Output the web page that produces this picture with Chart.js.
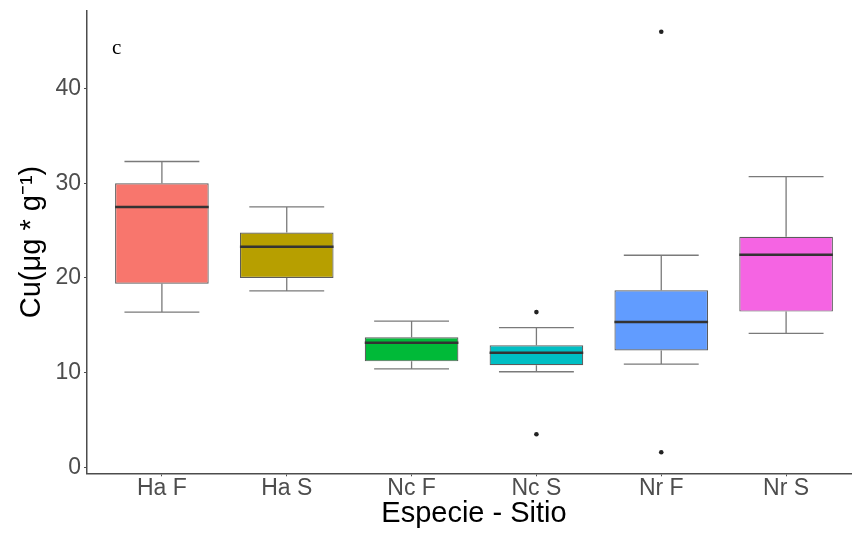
<!DOCTYPE html>
<html>
<head>
<meta charset="utf-8">
<script src="https://cdn.jsdelivr.net/npm/chart.js@4"></script>
<style>
    html, body { margin: 0; padding: 0; background: #ffffff; overflow: hidden; }
    #cuChart { display: block; }
</style>
</head>
<body>
<canvas id="cuChart" width="870" height="533"></canvas>
<script>
// Datos
const categorias = ["Ha F", "Ha S", "Nc F", "Nc S", "Nr F", "Nr S"];
const bigoteInf = [16.4, 18.65, 10.4, 10.1, 10.9, 14.15];
const q1 = [19.4, 20.0, 11.2, 10.8, 12.35, 16.45];
const mediana = [27.5, 23.3, 13.15, 12.1, 15.35, 22.45];
const q3 = [30.0, 24.8, 13.75, 12.9, 18.7, 24.35];
const bigoteSup = [32.3, 27.5, 15.45, 14.75, 22.4, 30.7];
const atipicosCat = [3, 3, 4, 4];
const atipicosVal = [16.4, 3.5, 46.0, 1.6];
const ticksY = [0, 10, 20, 30, 40];
const colores = ["#F8766D", "#B79F00", "#00BA38", "#00BFC4", "#619CFF", "#F564E3"];

document.addEventListener("DOMContentLoaded", function () {
    const ctx = document.getElementById("cuChart").getContext("2d");

    // Bigotes (detrás de las cajas) y medianas (encima)
    const bigotesPlugin = {
        id: "bigotes",
        beforeDatasetsDraw(chart) {
            const x = chart.scales.x, y = chart.scales.y, c = chart.ctx;
            c.save();
            c.strokeStyle = "#7a7a7a";
            c.lineWidth = 1.3;
            categorias.forEach((cat, i) => {
                const xc = x.getPixelForValue(i);
                const x0 = x.getPixelForValue(i - 0.3);
                const x1 = x.getPixelForValue(i + 0.3);
                c.beginPath();
                c.moveTo(xc, y.getPixelForValue(bigoteSup[i]));
                c.lineTo(xc, y.getPixelForValue(q3[i]));
                c.moveTo(xc, y.getPixelForValue(q1[i]));
                c.lineTo(xc, y.getPixelForValue(bigoteInf[i]));
                c.moveTo(x0, y.getPixelForValue(bigoteSup[i]));
                c.lineTo(x1, y.getPixelForValue(bigoteSup[i]));
                c.moveTo(x0, y.getPixelForValue(bigoteInf[i]));
                c.lineTo(x1, y.getPixelForValue(bigoteInf[i]));
                c.stroke();
            });
            c.restore();
        },
        afterDatasetsDraw(chart) {
            const x = chart.scales.x, y = chart.scales.y, c = chart.ctx;
            c.save();
            c.strokeStyle = "#333333";
            c.lineWidth = 2.5;
            categorias.forEach((cat, i) => {
                const ym = y.getPixelForValue(mediana[i]);
                c.beginPath();
                c.moveTo(x.getPixelForValue(i - 0.375), ym);
                c.lineTo(x.getPixelForValue(i + 0.375), ym);
                c.stroke();
            });
            // etiqueta del panel
            c.fillStyle = "#000000";
            c.font = "21px 'Liberation Serif'";
            c.textBaseline = "alphabetic";
            c.fillText("c", chart.chartArea.left + 25, 54);
            c.restore();
        }
    };

    new Chart(ctx, {
        data: {
            datasets: [{
                type: "bar",
                data: categorias.map((c, i) => ({ x: i, y: [q1[i], q3[i]] })),
                backgroundColor: colores,
                borderColor: "#5c5c5c",
                borderWidth: 1.2,
                borderSkipped: false,
                barPercentage: 0.75,
                categoryPercentage: 1.0
            }, {
                type: "scatter",
                data: atipicosCat.map((c, i) => ({ x: c, y: atipicosVal[i] })),
                backgroundColor: "#222222",
                borderWidth: 0,
                pointRadius: 2.3
            }]
        },
        options: {
            responsive: false,
            animation: false,
            layout: { padding: { top: 10.7, right: 9, left: 0, bottom: 0 } },
            plugins: {
                legend: { display: false },
                tooltip: { enabled: false }
            },
            scales: {
                x: {
                    type: "linear",
                    min: -0.6,
                    max: 5.6,
                    offset: false,
                    afterBuildTicks: s => { s.ticks = categorias.map((c, i) => ({ value: i })); },
                    afterFit: s => { s.height = 59.7; s.paddingLeft = 0; s.paddingRight = 0; },
                    ticks: {
                        callback: v => categorias[v],
                        font: { family: "'Liberation Sans'", size: 23 },
                        color: "#4d4d4d",
                        padding: -1,
                        maxRotation: 0,
                        autoSkip: false
                    },
                    grid: { drawOnChartArea: false, offset: false, tickLength: 3, color: "#4d4d4d" },
                    border: { color: "#4d4d4d", width: 1.5 },
                    title: {
                        display: true,
                        text: "Especie - Sitio",
                        font: { family: "'Liberation Sans'", size: 29 },
                        color: "#000000",
                        padding: { top: 0, bottom: 2 }
                    }
                },
                y: {
                    min: -0.62,
                    max: 48.22,
                    afterBuildTicks: s => { s.ticks = ticksY.map(v => ({ value: v })); },
                    afterFit: s => { s.width = 87; s.paddingTop = 0; s.paddingBottom = 0; },
                    ticks: {
                        font: { family: "'Liberation Sans'", size: 23 },
                        color: "#4d4d4d",
                        padding: 3
                    },
                    grid: { drawOnChartArea: false, tickLength: 3, color: "#4d4d4d" },
                    border: { color: "#4d4d4d", width: 1.5 },
                    title: {
                        display: true,
                        text: "Cu(μg * g⁻¹)",
                        font: { family: "'Liberation Sans'", size: 29 },
                        color: "#000000",
                        padding: { top: 15, bottom: 0 }
                    }
                }
            }
        },
        plugins: [bigotesPlugin]
    });
});
</script>
</body>
</html>
